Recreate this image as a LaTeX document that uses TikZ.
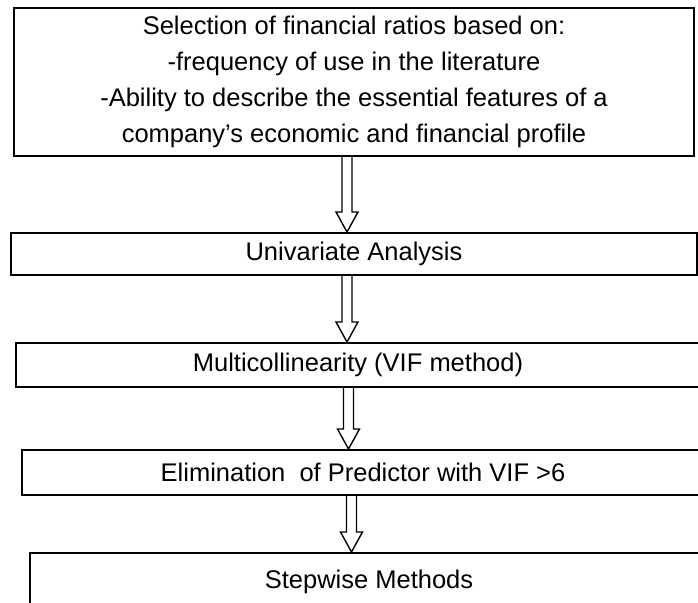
\documentclass[tikz,border=0pt]{standalone}
\usepackage{fontspec}
\setmainfont{Liberation Sans}
\usetikzlibrary{calc}

\newcommand{\blockarrow}[3]{%
  \draw[hollowarrow] let \p1=(#1.south), \p2=(#2.north), \p3=(#3,0) in
    (\x3-5pt,\y1) -- (\x3-5pt,\y2+20pt) -- (\x3-11pt,\y2+20pt) -- (\x3,\y2)
    -- (\x3+11pt,\y2+20pt) -- (\x3+5pt,\y2+20pt) -- (\x3+5pt,\y1);}

\begin{document}
\begin{tikzpicture}[x=1pt,y=-1pt,
  stagebox/.style={draw,line width=2pt,align=center,inner sep=0pt,
    font=\fontsize{25.5}{36}\selectfont},
  hollowarrow/.style={line width=1.4pt,line join=miter}]
  \path[use as bounding box,clip] (0,0) rectangle (698,602);
  \node[stagebox,minimum width=680,minimum height=148] (select) at (354,82)
    {Selection of financial ratios based on:\\-frequency of use in the literature\\-Ability to describe the essential features of a\\company’s economic and financial profile};
  \node[stagebox,minimum width=686,minimum height=42] (univar) at (354,254) {Univariate Analysis};
  \node[stagebox,minimum width=684,minimum height=44] (multicol) at (358,365) {Multicollinearity (VIF method)};
  \node[stagebox,minimum width=682,minimum height=45] (elim) at (363,472.5) {Elimination\ \ of Predictor with VIF >6};
  \node[stagebox,minimum width=678,minimum height=58] (stepwise) at (369,582) {Stepwise Methods};
  \blockarrow{select}{univar}{347}
  \blockarrow{univar}{multicol}{347}
  \blockarrow{multicol}{elim}{348.5}
  \blockarrow{elim}{stepwise}{351.5}
\end{tikzpicture}
\end{document}
